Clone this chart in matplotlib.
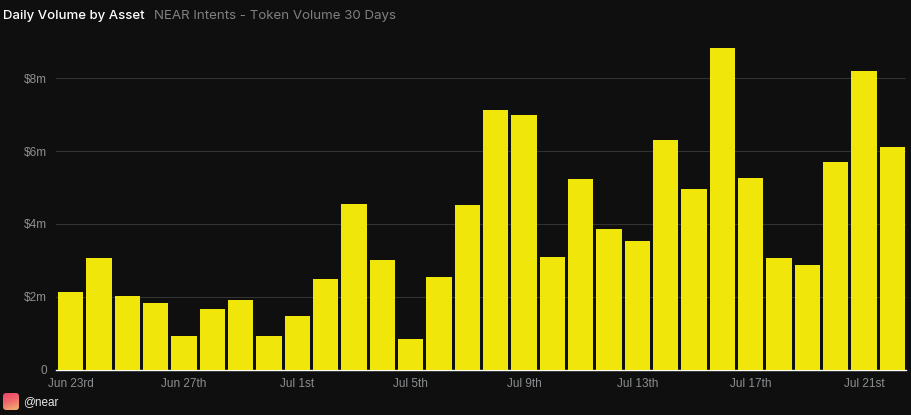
import numpy as np
import matplotlib
matplotlib.use('Agg')
import matplotlib.pyplot as plt
import matplotlib.patches as patches
from matplotlib.colors import LinearSegmentedColormap

# daily volume in $m, one bar per day from Jun 23rd to Jul 22nd
volumes = [2.12, 3.05, 2.03, 1.84, 0.93, 1.65, 1.92, 0.93, 1.46, 2.50,
           4.56, 3.00, 0.85, 2.53, 4.51, 7.12, 6.98, 3.10, 5.22, 3.85,
           3.52, 6.30, 4.95, 8.83, 5.27, 3.07, 2.88, 5.71, 8.19, 6.10]
date_labels = ['Jun 23rd', 'Jun 27th', 'Jul 1st', 'Jul 5th', 'Jul 9th',
               'Jul 13th', 'Jul 17th', 'Jul 21st']
y_ticks = [0, 2, 4, 6, 8]
y_labels = ['0', '$2m', '$4m', '$6m', '$8m']

W, H = 912, 415
BG = '#0f0f0f'

fig = plt.figure(figsize=(W / 100, H / 100), dpi=100, facecolor=BG)

# main axes, placed in pixels
left, right, top, bottom = 56.5, 906.5, 30, 369.5
ax = fig.add_axes([left / W, 1 - bottom / H, (right - left) / W, (bottom - top) / H])
ax.set_facecolor(BG)

xs = np.arange(len(volumes))
ax.bar(xs, volumes, width=0.9, color='#f0e60a', zorder=3)

ax.set_xlim(-0.5, len(volumes) - 0.5)
ax.set_ylim(0, (bottom - top) / 36.4)

ax.set_yticks(y_ticks)
ax.set_yticklabels(y_labels, fontname='Liberation Sans', fontsize=8.5, color='#8c8f92')
ax.set_xticks(xs[::4])
ax.set_xticklabels(date_labels, fontname='Liberation Sans', fontsize=8.5, color='#8c8f92')
ax.tick_params(axis='both', length=0)
ax.tick_params(axis='x', pad=6)
ax.tick_params(axis='y', pad=6.8)
ax.grid(True, axis='y', color='#333333', linewidth=0.8, zorder=0)

for name in ['top', 'left', 'right']:
    ax.spines[name].set_visible(False)
ax.spines['bottom'].set_color('#ffffff')
ax.spines['bottom'].set_linewidth(1.0)
ax.spines['bottom'].set_zorder(2)

# title and subtitle
fig.text(3 / W, 1 - 16.5 / H, 'Daily Volume by Asset', fontname='Inter', fontsize=9.5,
         fontweight='medium', color='#ffffff', va='center')
fig.text(154 / W, 1 - 16.5 / H, 'NEAR Intents - Token Volume 30 Days', fontname='Inter',
         fontsize=9.6, color='#808080', va='center')

# rounded gradient badge next to the handle
badge = fig.add_axes([3 / W, 1 - 410 / H, 16 / W, 17 / H])
badge.axis('off')
cmap = LinearSegmentedColormap.from_list('badge', ['#ee3f6c', '#f06a6c', '#f3b56f'])
gx, gy = np.meshgrid(np.linspace(0, 1, 40), np.linspace(0, 1, 40))
img = badge.imshow(0.25 * gx + 0.75 * gy, cmap=cmap, extent=(0, 1, 0, 1), origin='upper', aspect='auto')
clip = patches.FancyBboxPatch((0.08, 0.08), 0.84, 0.84, boxstyle='round,pad=0.08,rounding_size=0.2',
                              transform=badge.transData, facecolor='none', edgecolor='none')
badge.add_patch(clip)
img.set_clip_path(clip)

fig.text(23 / W, 1 - 402 / H, '@near', fontname='Liberation Sans', fontsize=8.5,
         color='#e8e8e8', va='center')

fig.savefig('out.png', dpi=100, facecolor=BG)
